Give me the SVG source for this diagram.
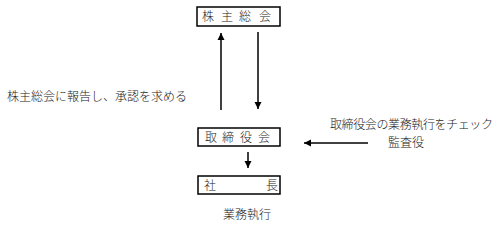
<svg xmlns="http://www.w3.org/2000/svg" width="504" height="231" viewBox="0 0 504 231">
<style>
.box{fill:#fff;stroke:#000;stroke-width:1.5}
.t{font-family:"Noto Sans CJK JP","Noto Sans CJK SC",sans-serif;font-size:12px;fill:#222;font-weight:300}
.ln{stroke:#000;stroke-width:1.5;fill:none}
</style>
<defs>
<marker id="ah" markerWidth="8" markerHeight="8" refX="7" refY="4" orient="auto" markerUnits="userSpaceOnUse">
<path d="M0,0.5 L7,4 L0,7.5 Z" fill="#000"/>
</marker>
</defs>
<g id="n1">
<rect class="box" x="197" y="7" width="83" height="19"/>
<text class="t" y="21"><tspan x="202">株</tspan><tspan x="221">主</tspan><tspan x="239">総</tspan><tspan x="259">会</tspan></text>
</g>
<g id="n2">
<rect class="box" x="198" y="128" width="82" height="18"/>
<text class="t" y="142"><tspan x="205">取</tspan><tspan x="222">締</tspan><tspan x="240">役</tspan><tspan x="258">会</tspan></text>
</g>
<g id="n3">
<rect class="box" x="198" y="176" width="82" height="18"/>
<text class="t" y="190"><tspan x="204">社</tspan><tspan x="266">長</tspan></text>
</g>
<g id="labels">
<text class="t" x="7" y="101">株主総会に報告し、承認を求める</text>
<text class="t" x="330" y="129" textLength="163">取締役会の業務執行をチェック</text>
<text class="t" x="388" y="147">監査役</text>
<text class="t" x="223" y="219">業務執行</text>
</g>
<g id="connectors">
<line class="ln" x1="221" y1="110" x2="221" y2="33" marker-end="url(#ah)"/>
<line class="ln" x1="258" y1="32" x2="258" y2="109" marker-end="url(#ah)"/>
<line class="ln" x1="248" y1="152" x2="248" y2="168" marker-end="url(#ah)"/>
<line class="ln" x1="368" y1="143" x2="304" y2="143" marker-end="url(#ah)"/>
</g>
</svg>
